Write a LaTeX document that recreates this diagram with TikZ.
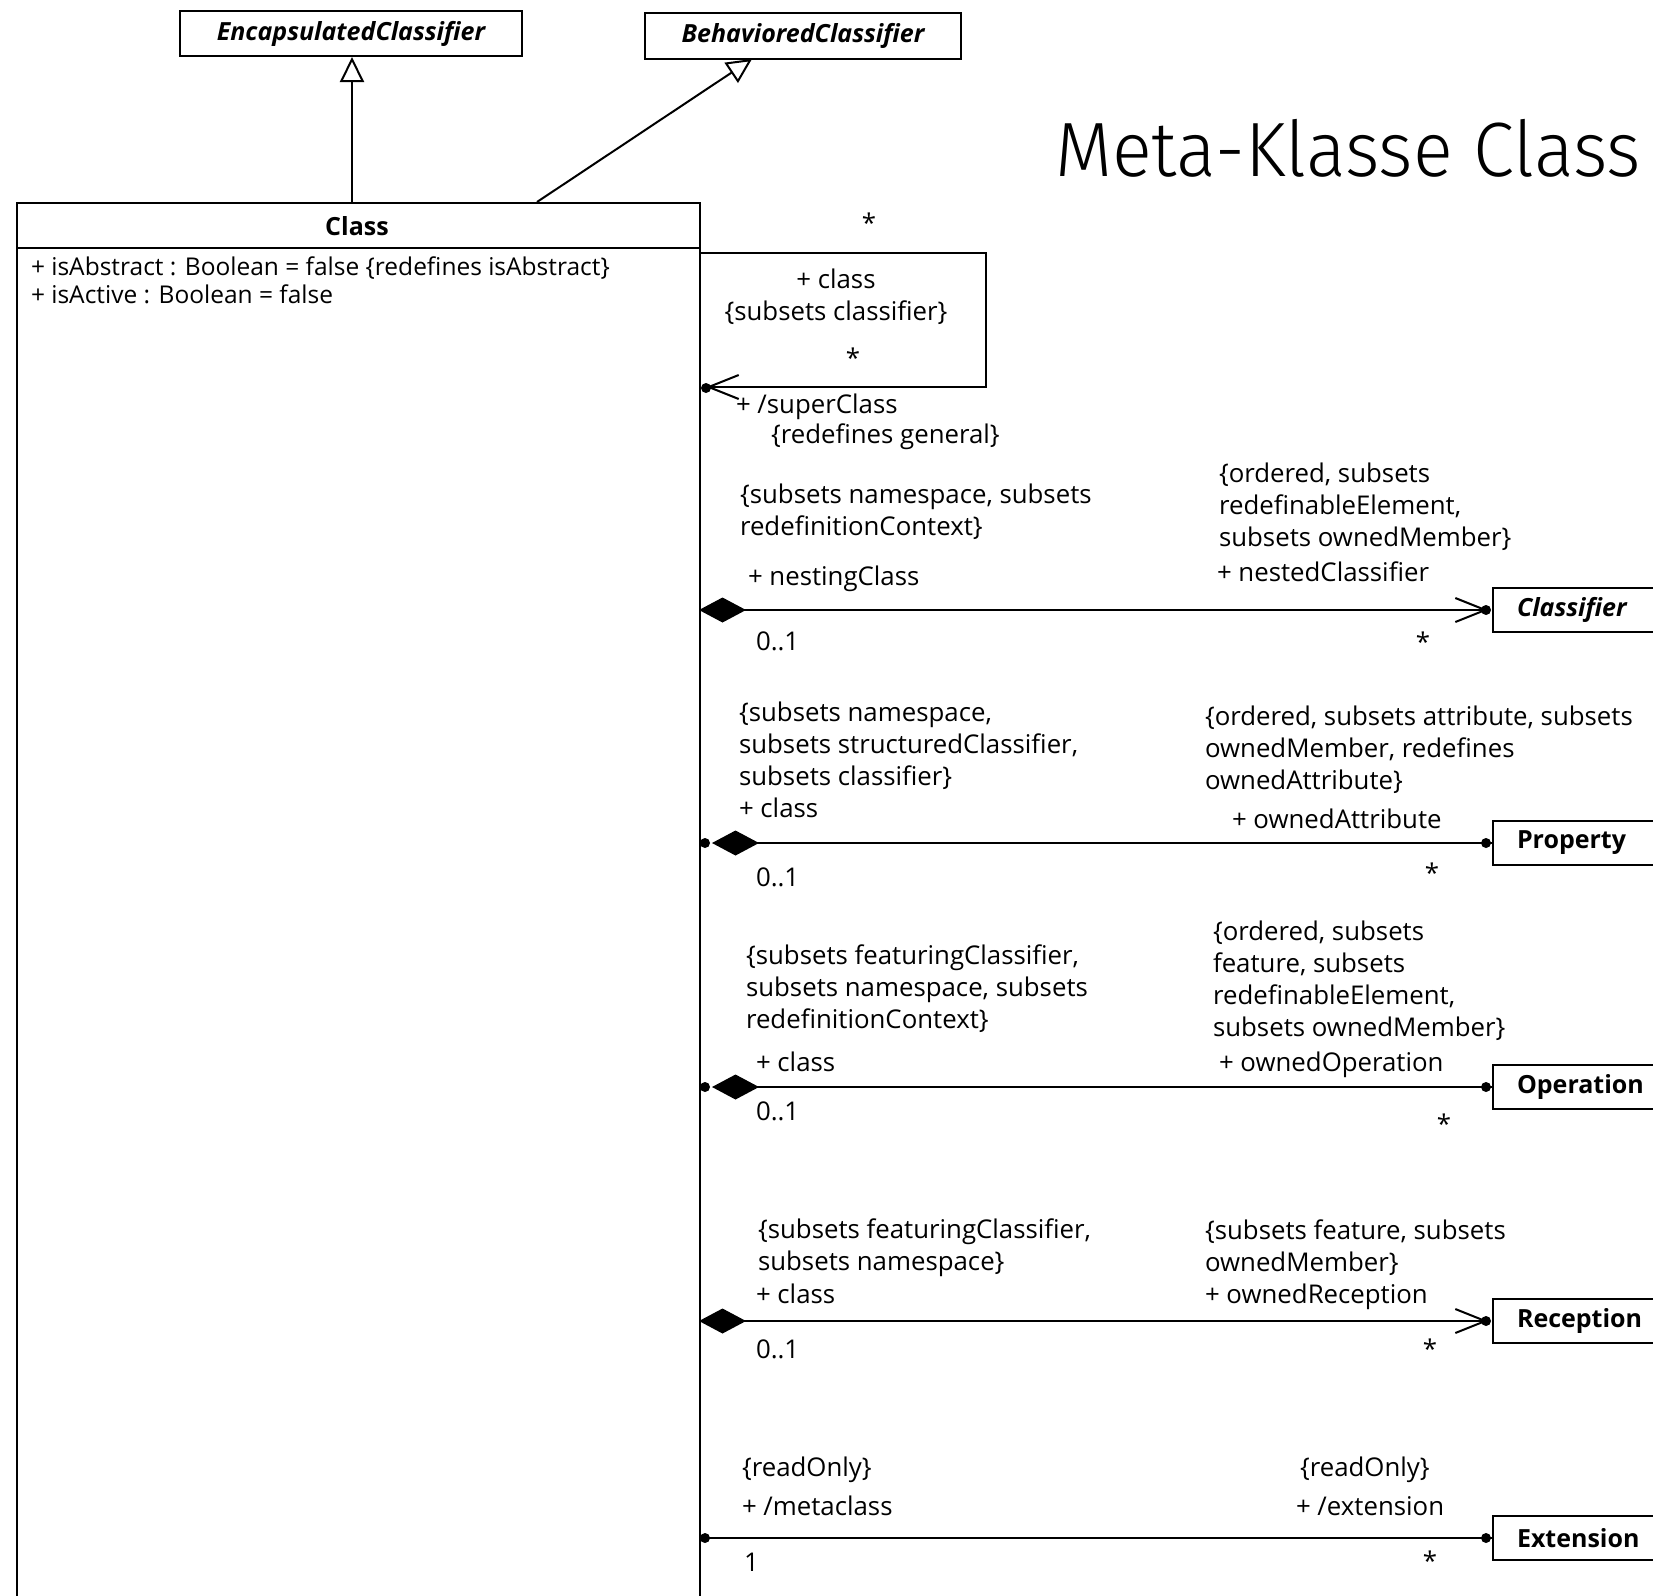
\documentclass[tikz,border=0pt]{standalone}
\usepackage{fontspec}
\setmainfont{Open Sans}
\newfontfamily\titlefont{Fira Sans Light}
\usetikzlibrary{arrows.meta}
\begin{document}
\begin{tikzpicture}[x=1pt,y=-1pt, line width=2pt,
  lab/.style={anchor=north west, inner sep=0pt, align=left, font=\fontsize{25.8}{32}\selectfont},
  labb/.style={anchor=base west, inner sep=0pt, font=\fontsize{25.8}{32}\selectfont},
  mult/.style={anchor=base, inner sep=0pt, font=\fontsize{25.8}{32}\selectfont},
  attr/.style={anchor=base west, inner sep=0pt, font=\fontsize{24.5}{29}\selectfont},
  absbox/.style={draw, inner sep=0pt, font=\fontsize{25}{30}\selectfont\bfseries\itshape},
  rbox/.style={draw, anchor=west, minimum height=44pt, text width=200pt, inner xsep=24pt, inner ysep=0pt, align=left, font=\fontsize{25}{30}\selectfont\bfseries},
  gen/.style={-{Triangle[open,length=25pt,width=24pt,fill=white]}},
  nav/.style={-{Straight Barb[length=30pt,width=24pt]}},
  comp/.style={{Diamond[length=47pt,width=25pt]}-},
  compnav/.style={{Diamond[length=47pt,width=25pt]}-{Straight Barb[length=30pt,width=24pt]}},
  own/.style={fill=black},
]
\useasboundingbox (0,0) rectangle (1653,1595);

% title
\node[anchor=base west, inner sep=0pt, font=\titlefont\fontsize{77}{80}\selectfont] (title) at (1054,176) {\scalebox{0.962}[1]{Meta-Klasse Class}};

% abstract superclasses
\node[absbox, minimum width=342pt, minimum height=45pt] (enc) at (351,33.5) {EncapsulatedClassifier};
\node[absbox, minimum width=316pt, minimum height=46pt] (beh) at (803,36) {BehavioredClassifier};

% Class
\node[draw, anchor=north west, minimum width=683pt, minimum height=1430pt, inner sep=0pt] (cls) at (16,202) {};
\draw ([yshift=-46pt]cls.north west) -- ([yshift=-46pt]cls.north east);
\node[inner sep=0pt, font=\fontsize{25}{30}\selectfont\bfseries] (clsname) at (357,226) {Class};
\node[attr] (a1) at (30,275.5) {+ isAbstract : Boolean = false \{redefines isAbstract\}};
\node[attr] (a2) at (30,303.5) {+ isActive : Boolean = false};

% generalizations
\coordinate (g1s) at (352,202);
\draw[gen] (g1s) -- (g1s |- enc.south);
\coordinate (g2s) at (537,202);
\coordinate (g2t) at (752,59);
\draw[gen] (g2s) -- (g2t);

% self association superClass
\coordinate (s1) at (699,253);
\coordinate (s2) at (986,387);
\coordinate (s3) at (699,387);
\draw[nav, shorten >=7pt] (s1) -| (s2) -- (s3);
\fill[own] (706,388) circle (5pt);
\node[mult] (m0) at (869,232) {*};
\node[anchor=north, inner sep=0pt, align=center, font=\fontsize{25.8}{32}\selectfont] (r0) at (836,265) {\strut + class\\\{subsets classifier\}};
\node[mult] (m0b) at (853,367) {*};
\node[labb] (sup1) at (735,413) {+ /superClass};
\node[labb] (sup2) at (770,443) {\{redefines general\}};

% nestedClassifier
\node[rbox] (bclsf) at (1492,610) {\itshape Classifier};
\coordinate (c1) at (699,610);
\draw[compnav, shorten >=4pt] (c1) -- (bclsf.west);
\fill[own] (1486,610) circle (5pt);
\node[lab] (l1) at (739,480) {\strut\{subsets namespace, subsets\\redefinitionContext\}};
\node[labb] (l1r) at (747,585) {+ nestingClass};
\node[labb] (l1m) at (755,650) {0..1};
\node[lab] (r1) at (1218,459) {\strut\{ordered, subsets\\redefinableElement,\\subsets ownedMember\}};
\node[labb] (r1r) at (1216,581) {+ nestedClassifier};
\node[mult] (r1m) at (1423,651) {*};

% ownedAttribute
\node[rbox] (bprop) at (1492,843) {Property};
\coordinate (c2) at (699,843);
\draw[comp, shorten <=13pt] (c2) -- (bprop.west);
\fill[own] (705,843) circle (5pt);
\fill[own] (1486,843) circle (5pt);
\node[lab] (l2) at (738,698) {\strut\{subsets namespace,\\subsets structuredClassifier,\\subsets classifier\}\\+ class};
\node[labb] (l2m) at (755,886) {0..1};
\node[lab] (r2) at (1204,702) {\strut\{ordered, subsets attribute, subsets\\ownedMember, redefines\\ownedAttribute\}};
\node[labb] (r2r) at (1231,828) {+ ownedAttribute};
\node[mult] (r2m) at (1432,882) {*};

% ownedOperation
\node[rbox] (bop) at (1492,1087) {Operation};
\coordinate (c3) at (699,1087);
\draw[comp, shorten <=13pt] (c3) -- (bop.west);
\fill[own] (705,1087) circle (5pt);
\fill[own] (1486,1087) circle (5pt);
\node[lab] (l3) at (745,941) {\strut\{subsets featuringClassifier,\\subsets namespace, subsets\\redefinitionContext\}};
\node[labb] (l3r) at (755,1071) {+ class};
\node[labb] (l3m) at (755,1120) {0..1};
\node[lab] (r3) at (1212,917) {\strut\{ordered, subsets\\feature, subsets\\redefinableElement,\\subsets ownedMember\}};
\node[labb] (r3r) at (1218,1071) {+ ownedOperation};
\node[mult] (r3m) at (1444,1133) {*};

% ownedReception
\node[rbox] (brec) at (1492,1321) {Reception};
\coordinate (c4) at (699,1321);
\draw[compnav, shorten >=4pt] (c4) -- (brec.west);
\fill[own] (1486,1321) circle (5pt);
\node[lab] (l4) at (757,1215) {\strut\{subsets featuringClassifier,\\subsets namespace\}};
\node[labb] (l4r) at (755,1303) {+ class};
\node[labb] (l4m) at (755,1358) {0..1};
\node[lab] (r4) at (1204,1216) {\strut\{subsets feature, subsets\\ownedMember\}\\+ ownedReception};
\node[mult] (r4m) at (1430,1358) {*};

% extension
\node[rbox] (bext) at (1492,1538) {Extension};
\coordinate (c5) at (699,1538);
\draw (c5) -- (bext.west);
\fill[own] (705,1538) circle (5pt);
\fill[own] (1486,1538) circle (5pt);
\node[labb] (l5a) at (741,1476) {\{readOnly\}};
\node[labb] (l5b) at (741,1515) {+ /metaclass};
\node[labb] (l5m) at (743,1571) {1};
\node[labb] (r5a) at (1299,1476) {\{readOnly\}};
\node[labb] (r5b) at (1295,1515) {+ /extension};
\node[mult] (r5m) at (1430,1570) {*};
\end{tikzpicture}
\end{document}
